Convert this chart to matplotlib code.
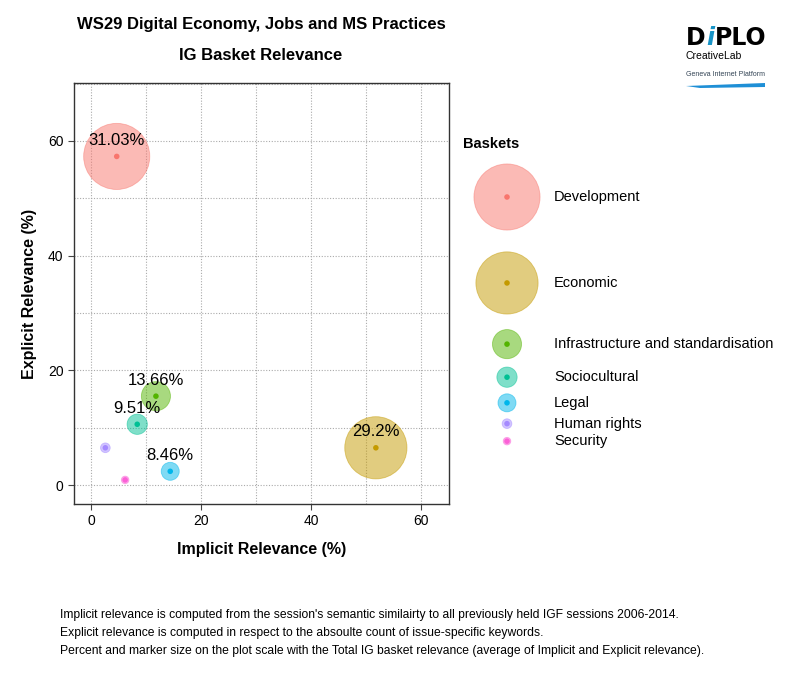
import numpy as np
import matplotlib.pyplot as plt
from matplotlib.patches import Polygon

plt.rcParams['font.family'] = ['Liberation Sans', 'DejaVu Sans']

# data
baskets = ["Development", "Economic", "Infrastructure and standardisation",
           "Sociocultural", "Legal", "Human rights", "Security"]
implicit = [4.67, 51.8, 11.8, 8.4, 14.4, 2.6, 6.2]
explicit = [57.3, 6.5, 15.5, 10.6, 2.4, 6.5, 0.9]
total_pct = [31.03, 29.2, 13.66, 9.51, 8.46, 4.55, 3.55]
show_label = [True, True, True, True, True, False, False]
colors = ["#F8766D", "#C49A00", "#53B400", "#00C094", "#00B6EB", "#A58AFF", "#FB61D7"]

footer = [
    "Implicit relevance is computed from the session's semantic similairty to all previously held IGF sessions 2006-2014.",
    "Explicit relevance is computed in respect to the absoulte count of issue-specific keywords.",
    "Percent and marker size on the plot scale with the Total IG basket relevance (average of Implicit and Explicit relevance).",
]

W, H = 800, 700
fig = plt.figure(figsize=(8, 7), dpi=100)

def fx(px):
    return px / W

def fy(py):
    return 1 - py / H

# marker area: diameter in px ~ 2.13 * percent
diam_px = np.array(total_pct) * 2.13
sizes = (diam_px * 0.72) ** 2

ax = fig.add_axes([fx(74), fy(504), fx(449) - fx(74), fy(83) - fy(504)])
ax.scatter(implicit, explicit, s=sizes, c=colors, alpha=0.5, edgecolors=colors,
           linewidths=0.6, zorder=3)
ax.scatter(implicit, explicit, s=16, c=colors, zorder=4, linewidths=0)
for x, y, p, show in zip(implicit, explicit, total_pct, show_label):
    if show:
        ax.annotate(f"{p:g}%", (x, y), xytext=(0, 11.5), textcoords="offset points",
                    ha="center", va="center", fontsize=12, zorder=5)

ax.set_xlim(-3.1, 65.1)
ax.set_ylim(-3.3, 70.1)
ax.set_xticks([0, 20, 40, 60])
ax.set_yticks([0, 20, 40, 60])
ax.set_xticks(np.arange(0, 70, 10), minor=True)
ax.set_yticks(np.arange(0, 80, 10), minor=True)
ax.grid(True, which="both", linestyle=(0, (1, 1.5)), color="#aaaaaa", linewidth=0.8)
ax.tick_params(which="minor", length=0)
ax.tick_params(which="major", length=4, color="#444444", labelsize=10, direction="out")
for s in ax.spines.values():
    s.set_color("#333333")
    s.set_linewidth(1)
ax.set_xlabel("Implicit Relevance (%)", fontsize=11.5, fontweight="bold", labelpad=10)
ax.set_ylabel("Explicit Relevance (%)", fontsize=11.5, fontweight="bold", labelpad=8)

# titles
fig.text(fx(261), fy(24), "WS29 Digital Economy, Jobs and MS Practices", ha="center",
         va="center", fontsize=12, fontweight="bold")
fig.text(fx(261), fy(56), "IG Basket Relevance", ha="center", va="center",
         fontsize=12, fontweight="bold")

# legend drawn in its own pixel-scaled axes
lax = fig.add_axes([0, 0, 1, 1], zorder=2)
lax.set_xlim(0, W)
lax.set_ylim(H, 0)
lax.axis("off")
lax.text(463, 144, "Baskets", ha="left", va="center", fontsize=10.5, fontweight="bold")
row_h = np.maximum(diam_px * 1.34, 17.5)
ys = 197 + np.concatenate([[0], np.cumsum((row_h[:-1] + row_h[1:]) / 2)])
lax.scatter([507] * len(ys), ys, s=sizes, c=colors, alpha=0.5, edgecolors=colors,
            linewidths=0.6)
lax.scatter([507] * len(ys), ys, s=16, c=colors, linewidths=0)
for y, name in zip(ys, baskets):
    lax.text(554, y, name, ha="left", va="center", fontsize=10.5)

# logo
lax.text(686, 38, "D", ha="left", va="center", fontsize=17, fontweight="heavy",
         family="DejaVu Sans")
lax.text(706, 38, "i", ha="left", va="center", fontsize=17, fontweight="bold",
         style="italic", color="#1793c6", family="DejaVu Sans")
lax.text(715, 38, "PLO", ha="left", va="center", fontsize=17, fontweight="heavy",
         family="DejaVu Sans")
lax.text(686, 56, "CreativeLab", ha="left", va="center", fontsize=7.5)
lax.text(686, 74, "Geneva Internet Platform", ha="left", va="center", fontsize=5,
         color="#334455")
lax.add_patch(Polygon([[686, 86], [765, 83], [765, 87], [700, 88]], closed=True,
                      color="#1e8fd6", lw=0))

# footer
for i, line in enumerate(footer):
    fig.text(fx(60), fy(615 + 18 * i), line, ha="left", va="center", fontsize=8.7)

fig.savefig("out.png", dpi=100)
